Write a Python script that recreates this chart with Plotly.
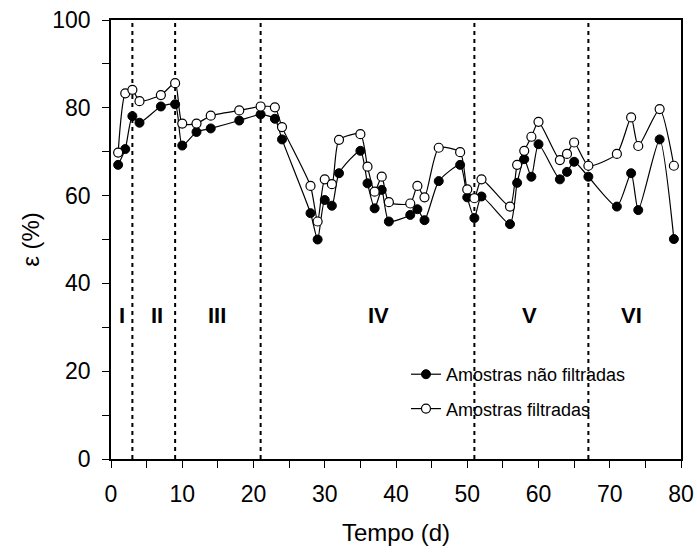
import plotly.graph_objects as go

tempo = [1, 2, 3, 4, 7, 9, 10, 12, 14, 18, 21, 23, 24, 28, 29, 30, 31, 32, 35, 36, 37, 38, 39,
         42, 43, 44, 46, 49, 50, 51, 52, 56, 57, 58, 59, 60, 63, 64, 65, 67, 71, 73, 74, 77, 79]
nao_filtradas = [67.0, 70.6, 78.1, 76.6, 80.3, 80.8, 71.4, 74.5, 75.3, 77.1, 78.5, 77.5, 72.8,
                 56.0, 50.0, 59.0, 57.7, 65.1, 70.2, 62.8, 57.1, 61.3, 54.1,
                 55.6, 56.9, 54.4, 63.3, 67.0, 59.6, 54.9, 59.8, 53.5, 62.9, 68.3, 64.3, 71.7,
                 63.7, 65.4, 67.7, 64.3, 57.5, 65.1, 56.7, 72.8, 50.1]
filtradas = [69.8, 83.3, 84.1, 81.5, 82.9, 85.6, 76.4, 76.4, 78.2, 79.4, 80.3, 80.1, 75.6,
             62.2, 54.1, 63.7, 62.6, 72.7, 74.0, 66.6, 60.9, 64.3, 58.5,
             58.2, 62.2, 59.6, 70.9, 69.9, 61.4, 59.4, 63.7, 57.5, 67.0, 70.2, 73.4, 76.8,
             68.1, 69.5, 72.1, 66.8, 69.5, 77.8, 71.3, 79.7, 66.8]
divisoes = [3, 9, 21, 51, 67]
fases = ["I", "II", "III", "IV", "V", "VI"]
fases_x = [1.6, 6.4, 14.9, 37.5, 58.7, 73.0]
fases_y = 32.7

font_family = "Arial, Liberation Sans, sans-serif"

fig = go.Figure()
fig.add_trace(go.Scatter(
    x=tempo, y=nao_filtradas, mode="lines+markers", name="Amostras não filtradas",
    legendgroup="a",
    line=dict(color="black", width=1.2, shape="spline", smoothing=0.6),
    marker=dict(symbol="circle", size=9, color="black", line=dict(color="black", width=1)),
))
fig.add_trace(go.Scatter(
    x=tempo, y=filtradas, mode="lines+markers", name="Amostras filtradas",
    legendgroup="b",
    line=dict(color="black", width=1.2, shape="spline", smoothing=0.6),
    marker=dict(symbol="circle", size=9, color="white", line=dict(color="black", width=1.2)),
))

for d in divisoes:
    fig.add_shape(type="line", x0=d, x1=d, y0=0, y1=100, xref="x", yref="y",
                  line=dict(color="black", width=2, dash="4px,4px"), layer="below")

for label, xpos in zip(fases, fases_x):
    fig.add_annotation(x=xpos, y=fases_y, text=f"<b>{label}</b>", showarrow=False,
                       font=dict(family=font_family, size=22, color="black"))

fig.update_layout(
    width=697, height=552,
    margin=dict(l=111, r=16, t=20, b=93),
    paper_bgcolor="white", plot_bgcolor="white",
    font=dict(family=font_family, size=23, color="black"),
    legend=dict(x=0.5175, y=0.2346, xanchor="left", yanchor="top",
                bgcolor="rgba(0,0,0,0)", font=dict(size=18, family=font_family),
                tracegroupgap=8),
    showlegend=True,
)
fig.update_xaxes(
    range=[0, 80], tickvals=[0, 10, 20, 30, 40, 50, 60, 70, 80],
    ticks="outside", ticklen=7, tickcolor="black", tickwidth=1,
    minor=dict(dtick=5, tick0=0, ticks="outside", ticklen=7, tickcolor="black"),
    showline=True, linecolor="black", linewidth=1.5, mirror=True,
    showgrid=False, zeroline=False, automargin=False,
    ticklabelstandoff=7,
    title=dict(text="Tempo (d)", font=dict(size=24), standoff=18),
    tickfont=dict(size=23),
)
fig.update_yaxes(
    range=[0, 100], tickvals=[0, 20, 40, 60, 80, 100],
    ticks="outside", ticklen=7, tickcolor="black", tickwidth=1,
    minor=dict(dtick=10, tick0=0, ticks="outside", ticklen=7, tickcolor="black"),
    showline=True, linecolor="black", linewidth=1.5, mirror=True,
    showgrid=False, zeroline=False, automargin=False,
    ticklabelstandoff=7,
    title=dict(text="ε (%)", font=dict(size=24), standoff=6),
    tickfont=dict(size=23),
)

fig.write_html(
    "out.html",
    config={"displayModeBar": False},
    post_script="document.body.style.margin='0';document.body.style.overflow='hidden';",
)
